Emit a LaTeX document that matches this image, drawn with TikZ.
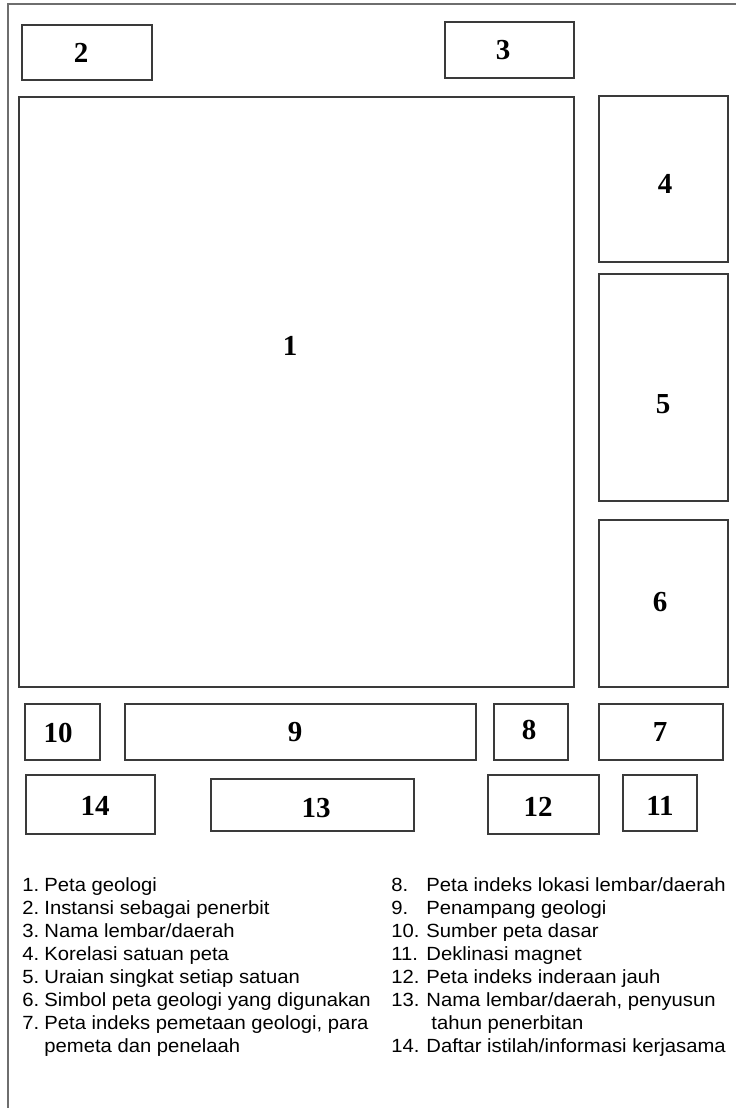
\documentclass[tikz,border=0pt]{standalone}
\usepackage{fontspec}
\setmainfont{Liberation Serif}
\newfontfamily\legendfont[FakeStretch=1.06]{Liberation Sans}
\definecolor{boxline}{HTML}{3A3A3A}
\definecolor{frameline}{HTML}{6E6E6E}
\tikzset{
  boxr/.style={draw=boxline, line width=0.55pt},
  framel/.style={draw=frameline, line width=0.8pt},
  num/.style={inner sep=0pt, font=\fontsize{14.5}{16}\selectfont\bfseries},
  legl/.style={inner sep=0pt, anchor=base west, font=\legendfont\fontsize{9.55}{11}\selectfont},
}
\newcommand{\lnumL}[1]{\makebox[11pt][l]{#1}}
\newcommand{\lnumR}[1]{\makebox[17.5pt][l]{#1}}
\begin{document}
\begin{tikzpicture}[x=0.5pt,y=-0.5pt]
\useasboundingbox (0,0) rectangle (736,1108);
% frame
\draw[framel] (8,1108) -- (8,4) -- (736,4);
% boxes
\draw[boxr] (19,97) rectangle (574,687);
\draw[boxr] (22,25) rectangle (152,80);
\draw[boxr] (445,22) rectangle (574,78);
\draw[boxr] (599,96) rectangle (728,262);
\draw[boxr] (599,274) rectangle (728,501);
\draw[boxr] (599,520) rectangle (728,687);
\draw[boxr] (25,704) rectangle (100,760);
\draw[boxr] (125,704) rectangle (476,760);
\draw[boxr] (494,704) rectangle (568,760);
\draw[boxr] (599,704) rectangle (723,760);
\draw[boxr] (26,775) rectangle (155,834);
\draw[boxr] (211,779) rectangle (414,831);
\draw[boxr] (488,775) rectangle (599,834);
\draw[boxr] (623,775) rectangle (697,831);
% numbers
\node[num] (n1) at (290,346) {1};
\node[num] (n2) at (81,53) {2};
\node[num] (n3) at (503,50) {3};
\node[num] (n4) at (665,184) {4};
\node[num] (n5) at (663,404) {5};
\node[num] (n6) at (660,602) {6};
\node[num] (n7) at (660,732) {7};
\node[num] (n8) at (529,730) {8};
\node[num] (n9) at (295,732) {9};
\node[num] (n10) at (58,733) {10};
\node[num] (n11) at (660,806) {11};
\node[num] (n12) at (538,807) {12};
\node[num] (n13) at (316,808) {13};
\node[num] (n14) at (95,806) {14};
% legend left
\node[legl] (l1) at (22,891) {\lnumL{1.}Peta geologi};
\node[legl] (l2) at (22,914) {\lnumL{2.}Instansi sebagai penerbit};
\node[legl] (l3) at (22,937) {\lnumL{3.}Nama lembar/daerah};
\node[legl] (l4) at (22,960) {\lnumL{4.}Korelasi satuan peta};
\node[legl] (l5) at (22,983) {\lnumL{5.}Uraian singkat setiap satuan};
\node[legl] (l6) at (22,1006) {\lnumL{6.}Simbol peta geologi yang digunakan};
\node[legl] (l7) at (22,1029) {\lnumL{7.}Peta indeks pemetaan geologi, para};
\node[legl] (l7b) at (44,1052) {pemeta dan penelaah};
% legend right
\node[legl] (r8) at (391,891) {\lnumR{8.}Peta indeks lokasi lembar/daerah};
\node[legl] (r9) at (391,914) {\lnumR{9.}Penampang geologi};
\node[legl] (r10) at (391,937) {\lnumR{10.}Sumber peta dasar};
\node[legl] (r11) at (391,960) {\lnumR{11.}Deklinasi magnet};
\node[legl] (r12) at (391,983) {\lnumR{12.}Peta indeks inderaan jauh};
\node[legl] (r13) at (391,1006) {\lnumR{13.}Nama lembar/daerah, penyusun};
\node[legl] (r13b) at (431,1029) {tahun penerbitan};
\node[legl] (r14) at (391,1052) {\lnumR{14.}Daftar istilah/informasi kerjasama};
\end{tikzpicture}
\end{document}
